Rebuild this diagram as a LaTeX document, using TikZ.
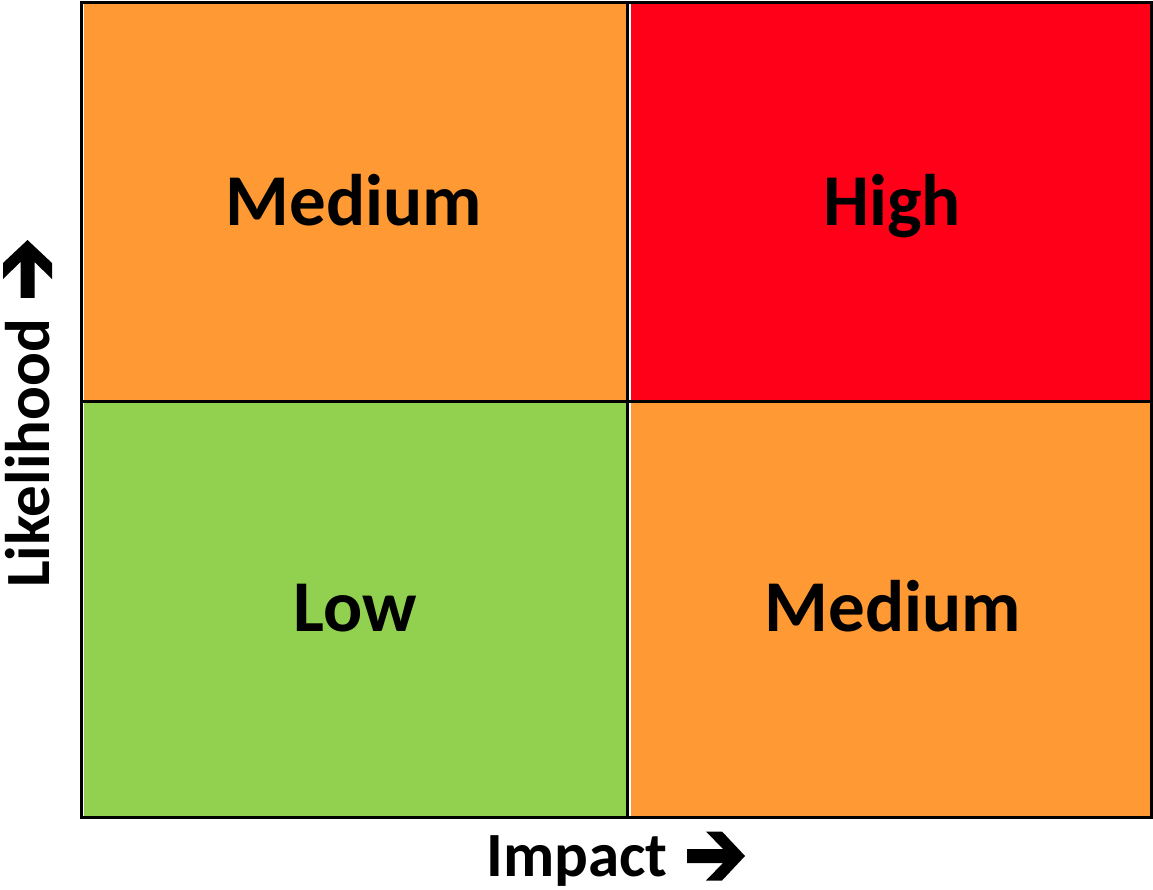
\documentclass[tikz,border=0pt]{standalone}
\usepackage{fontspec}
\setmainfont{Carlito}
\definecolor{riskorange}{HTML}{FF9933}
\definecolor{riskred}{HTML}{FF0018}
\definecolor{riskgreen}{HTML}{92D050}
\begin{document}
\begin{tikzpicture}[x=1pt,y=-1pt,
  celltext/.style={font=\fontsize{73}{76}\selectfont\bfseries, text=black, inner sep=0pt, anchor=base},
  axistext/.style={font=\fontsize{63}{67}\selectfont\bfseries, text=black, inner sep=0pt, anchor=base west},
  frame/.style={line width=3pt, draw=black},
  % heavy chevron arrow, tail at the origin, pointing along +x
  boldarrow/.pic={\fill[black] (0,7) -- (36,7) -- (19,24.5) -- (35,24.5) -- (58,0)
      -- (35,-24.5) -- (19,-24.5) -- (36,-7) -- (0,-7) -- cycle;}]
  \useasboundingbox (0,0) rectangle (1153,890);
  % quadrant fills
  \fill[riskorange] (84,4) rectangle (627,400);
  \fill[riskred] (631,4) rectangle (1150,400);
  \fill[riskgreen] (84,402) rectangle (627,816);
  \fill[riskorange] (631,402) rectangle (1150,816);
  % grid lines
  \draw[frame] (81,2.5) rectangle (1151.5,817);
  \draw[frame] (627,2.5) -- (627,817);
  \draw[frame] (81,401) -- (1151.5,401);
  % quadrant labels
  \node[celltext] (tl) at (354,226) {Medium};
  \node[celltext] (tr) at (892,226) {High};
  \node[celltext] (bl) at (355,631) {Low};
  \node[celltext] (br) at (893,631) {Medium};
  % axis titles with arrows
  \node[axistext] (impact) at (486,876) {Impact};
  \pic at (687,856) {boldarrow};
  \node[axistext, rotate=90] (likelihood) at (49,588) {Likelihood};
  \pic[rotate=90] at (27.5,298) {boldarrow};
\end{tikzpicture}
\end{document}
